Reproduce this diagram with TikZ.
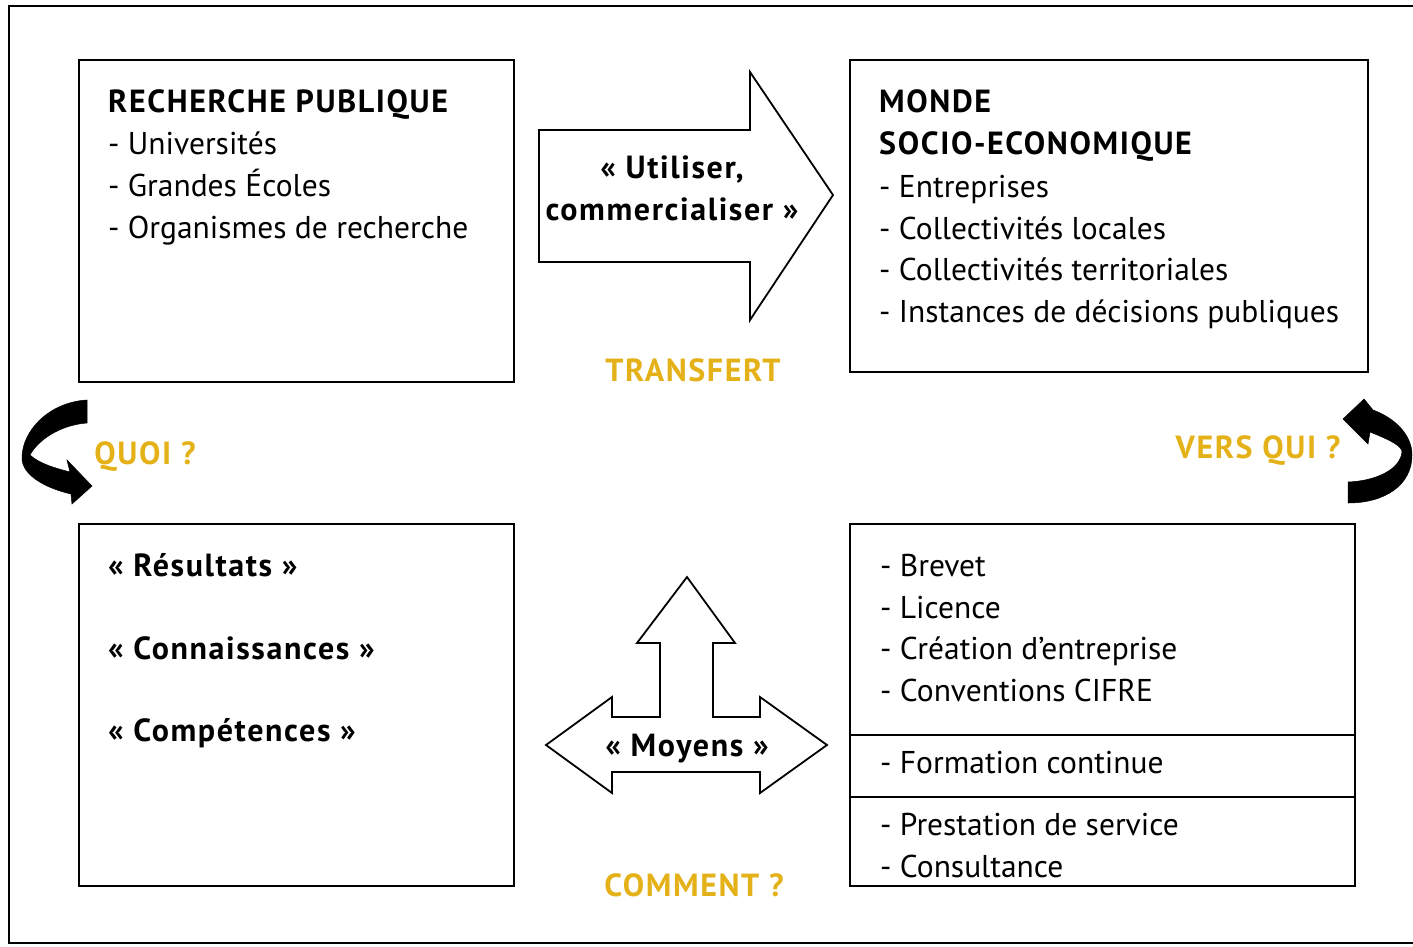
\documentclass[tikz,border=0pt]{standalone}
\usepackage{fontspec}
\setmainfont{PT Sans}[BoldFeatures={LetterSpace=5}]
\usepackage{xcolor}
\definecolor{gold}{RGB}{228,178,24}
\usepackage{tikz}

\begin{document}
\begin{tikzpicture}[x=1pt,y=-1pt,
  box/.style={draw,line width=2pt},
  txt/.style={anchor=base west,inner sep=0pt,font=\fontsize{31.5}{37}\selectfont},
  hd/.style={txt,font=\fontsize{32}{37}\selectfont\bfseries},
  lbl/.style={anchor=base,inner sep=0pt,text=gold,font=\fontsize{32}{37}\selectfont\bfseries},
  fat/.style={draw,line width=1.8pt,fill=white,line join=miter},
  swirl/.style={fill=black,draw=black,line width=0.5pt}]
\useasboundingbox (0,0) rectangle (1413,946);
%\draw[step=100,red,thin] (0,0) grid (1413,946);
\draw[line width=2pt] (9,6) rectangle (1422,943);

% the four boxes
\draw[box] (79,60) rectangle (514,382);
\draw[box] (850,60) rectangle (1368,372);
\draw[box] (79,524) rectangle (514,886);
\draw[box] (850,524) rectangle (1355,886);
\draw[box] (850,735) -- (1355,735);
\draw[box] (850,797) -- (1355,797);

% recherche publique
\node[hd] (rp0) at (108,112) {RECHERCHE PUBLIQUE};
\node[txt] (rp1) at (108,154) {- Universités};
\node[txt] (rp2) at (108,196) {- Grandes Écoles};
\node[txt] (rp3) at (108,238) {- Organismes de recherche};

% monde socio-economique
\node[hd] (ms0) at (879,112) {MONDE};
\node[hd] (ms1) at (879,154) {SOCIO-ECONOMIQUE};
\node[txt] (ms2) at (879,197) {- Entreprises};
\node[txt] (ms3) at (879,239) {- Collectivités locales};
\node[txt] (ms4) at (879,280) {- Collectivités territoriales};
\node[txt] (ms5) at (879,322) {- Instances de décisions publiques};

% resultats
\node[hd] (rs1) at (108,576) {« Résultats »};
\node[hd] (rs2) at (108,659) {« Connaissances »};
\node[hd] (rs3) at (108,741) {« Compétences »};

% moyens
\node[txt] (mo1) at (880,576) {- Brevet};
\node[txt] (mo2) at (880,618) {- Licence};
\node[txt] (mo3) at (880,659) {- Création d’entreprise};
\node[txt] (mo4) at (880,701) {- Conventions CIFRE};
\node[txt] (mo5) at (880,773) {- Formation continue};
\node[txt] (mo6) at (880,835) {- Prestation de service};
\node[txt] (mo7) at (880,877) {- Consultance};

% big arrow transfert
\draw[fat] (539,130) -- (750,130) -- (750,72) -- (833,195) -- (750,320)
  -- (750,262) -- (539,262) -- cycle;
\node[hd,anchor=base] (ut1) at (672,178) {« Utiliser,};
\node[hd,anchor=base] (ut2) at (672,220) {commercialiser »};

% three-way arrow moyens
\draw[fat] (546,745) -- (612,697) -- (612,717) -- (660,717) -- (660,643)
  -- (637,643) -- (687,577) -- (735,643) -- (713,643) -- (713,717)
  -- (760,717) -- (760,697) -- (827,745) -- (760,793) -- (760,772)
  -- (612,772) -- (612,793) -- cycle;
\node[hd,anchor=base] (moy) at (687,756) {« Moyens »};

% curved arrows
\fill[swirl] (87,400) -- (87,423) .. controls (60,425) and (38,440) .. (30,455)
  .. controls (40,464) and (55,468) .. (70,472) -- (67,460) -- (92,486)
  -- (72,504) -- (71,494) .. controls (45,488) and (22,475) .. (22,458)
  .. controls (22,430) and (50,402) .. (87,400) -- cycle;
\fill[swirl] (1348,482) .. controls (1375,481) and (1400,470) .. (1402,452)
  .. controls (1402,446) and (1390,440) .. (1370,432) -- (1368,444)
  -- (1343,419) -- (1364,399) -- (1373,410)
  .. controls (1395,418) and (1412,435) .. (1412,455)
  .. controls (1412,485) and (1385,503) .. (1348,503) -- cycle;

% yellow labels
\node[lbl] (tr) at (693,381) {TRANSFERT};
\node[lbl] (qu) at (145,464) {QUOI ?};
\node[lbl] (vq) at (1258,458) {VERS QUI ?};
\node[lbl] (cm) at (694,896) {COMMENT ?};

\end{tikzpicture}
\end{document}
